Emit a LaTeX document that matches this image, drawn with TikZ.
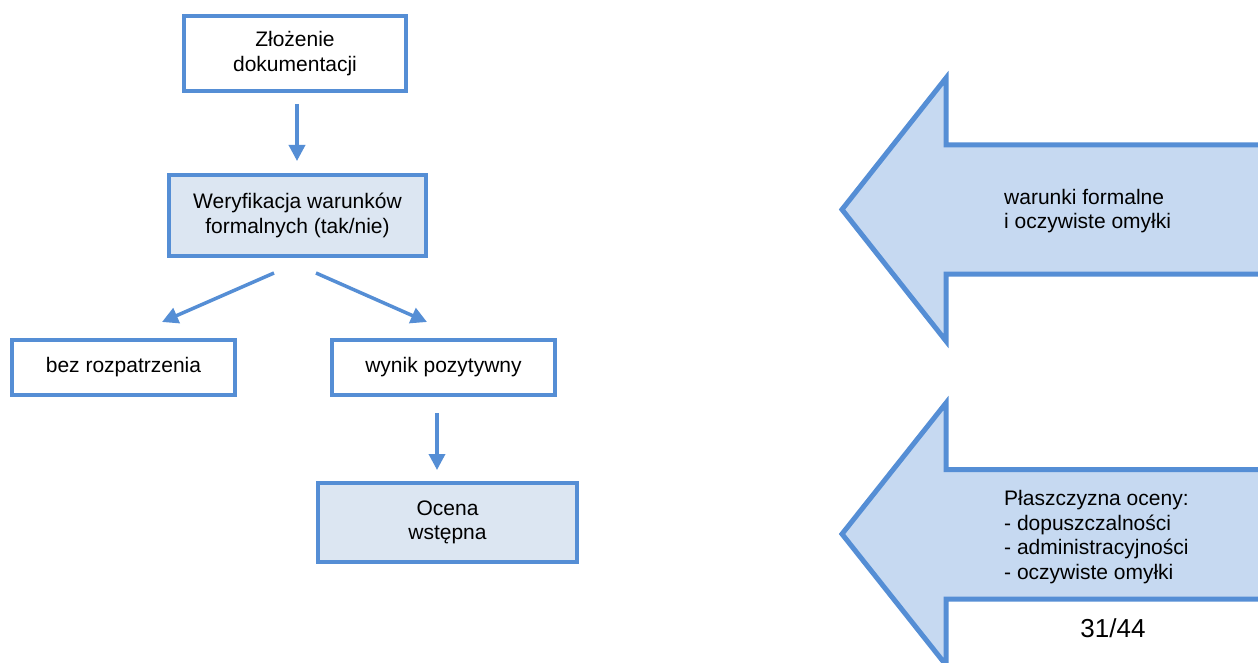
\documentclass[tikz,border=0pt]{standalone}
\usepackage{fontspec}
\setmainfont{Liberation Sans}
\usetikzlibrary{arrows.meta,calc}
\definecolor{edgeblue}{RGB}{85,142,213}
\definecolor{boxfill}{RGB}{220,230,242}
\definecolor{arrowfill}{RGB}{198,217,241}
\tikzset{
  box/.style={draw=edgeblue, line width=4pt, fill=white, inner sep=0pt, outer sep=0pt,
    align=center, font=\fontsize{21}{24.5}\selectfont},
  shaded/.style={box, fill=boxfill},
  conn/.style={draw=edgeblue, line width=3.5pt, -{Triangle[width=16pt,length=16pt]}},
  bigarrow/.style={draw=edgeblue, fill=arrowfill, line width=5pt, line join=miter},
  label/.style={inner sep=0pt, align=left, font=\fontsize{21}{24.5}\selectfont}
}
\begin{document}
\begin{tikzpicture}[x=1pt,y=-1pt]
\clip (0,0) rectangle (1258,663);
\fill[white] (0,0) rectangle (1258,663);

% flowchart boxes
\node[box, minimum width=222pt, minimum height=75pt] (b1) at (295,53.5) {Złożenie\\dokumentacji};
\node[shaded, minimum width=257pt, minimum height=81pt] (b2) at (297.5,215.5) {Weryfikacja warunków\\formalnych (tak/nie)};
\node[box, minimum width=223pt, minimum height=55pt] (bez) at (123.5,367.5) {bez rozpatrzenia};
\node[box, minimum width=223pt, minimum height=55pt] (wynik) at (443.5,367.5) {wynik pozytywny};
\node[shaded, minimum width=259pt, minimum height=79pt] (ocena) at (447.5,522.5) {Ocena\\wstępna};

% connectors
\draw[conn] ($(b1.south)+(2,13)$) -- ($(b2.north)+(-0.5,-14)$);
\draw[conn] ($(b2.south)+(-23.5,17)$) -- ($(bez.north)+(38.5,-18)$);
\draw[conn] ($(b2.south)+(18.5,17)$) -- ($(wynik.north)+(-16.5,-18)$);
\draw[conn] ($(wynik.south)+(-6.5,18)$) -- ($(ocena.north)+(-10.5,-13)$);

% big block arrows
\draw[bigarrow] (842,209.5) -- (946,78) -- (946,145) -- (1275,145) -- (1275,274) -- (946,274) -- (946,341) -- cycle;
\draw[bigarrow] (842,534) -- (946,403) -- (946,469.5) -- (1275,469.5) -- (1275,599) -- (946,599) -- (946,665) -- cycle;

\node[label, anchor=west] (t1) at (1004,211) {warunki formalne\\i oczywiste omyłki};
\node[label, anchor=west] (t2) at (1004,537) {Płaszczyzna oceny:\\- dopuszczalności\\- administracyjności\\- oczywiste omyłki};
\node[inner sep=0pt, font=\fontsize{26}{30}\selectfont] (page) at (1113,628) {31/44};
\end{tikzpicture}
\end{document}
